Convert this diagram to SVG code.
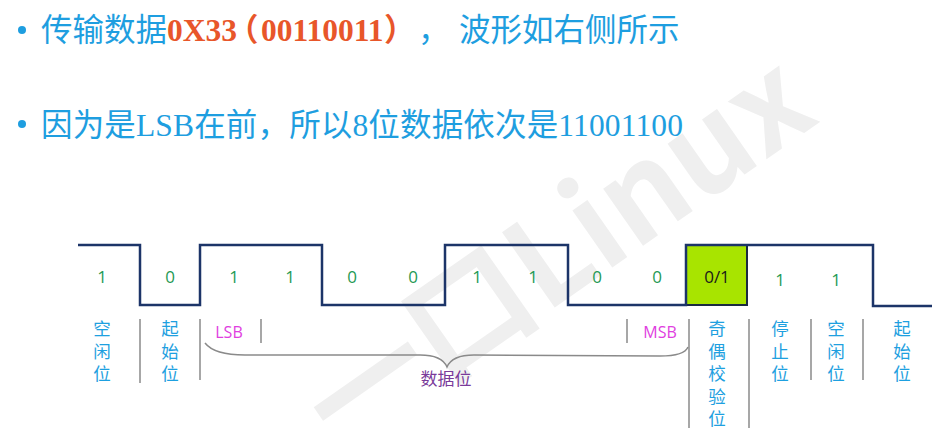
<svg xmlns="http://www.w3.org/2000/svg" width="946" height="441" viewBox="0 0 946 441">
<style>
.title{font-family:"Liberation Serif","Noto Sans CJK SC",serif;font-size:31.5px;fill:#1e9ee0}
.hl{fill:#e8562a;font-weight:bold}
.bit{font-family:"Open Sans","Noto Sans",sans-serif;font-size:17px;fill:#1f9a55;text-anchor:middle}
.lab{font-family:"Noto Sans CJK SC",sans-serif;font-size:17.5px;fill:#1ea0e0;text-anchor:middle}
.sb{font-family:"Open Sans","Noto Sans",sans-serif;font-size:16px;fill:#e03ee0;text-anchor:middle}
.sep{stroke:#8a8a8a;stroke-width:1.5;fill:none}
.wave{stroke:#1c3468;stroke-width:2.5;fill:none;stroke-linejoin:miter}
</style>
<rect width="946" height="441" fill="#ffffff"/>
<g id="watermark" transform="translate(558,254) rotate(-35)">
<text x="0" y="42" text-anchor="middle" font-family="'Noto Sans CJK SC','DejaVu Sans',sans-serif" font-weight="bold" font-size="124" fill="#efefef">一口Linux</text>
</g>
<g id="title">
<circle cx="22" cy="30" r="4" fill="#1e9ee0"/>
<text class="title" y="41"><tspan x="41">传输数据</tspan><tspan class="hl">0X33</tspan></text>
<text class="title" y="41"><tspan class="hl" x="227">（</tspan><tspan class="hl" x="261">00110011</tspan><tspan class="hl" x="384">）</tspan><tspan x="418">，</tspan><tspan x="459">波形如右侧所示</tspan></text>
<circle cx="22" cy="124" r="4" fill="#1e9ee0"/>
<text class="title" x="41" y="136" textLength="642" lengthAdjust="spacing">因为是LSB在前，所以8位数据依次是11001100</text>
</g>
<g id="waveform">
<rect x="686" y="245" width="61" height="60" fill="#a8e400" stroke="#1a2a40" stroke-width="2"/>
<path class="wave" d="M78,245 H140 V305 H200 V245 H322 V305 H445 V245 H568 V305 H686 V245 H873 V306 H932"/>
</g>
<g id="bits">
<text class="bit" x="102" y="283">1</text>
<text class="bit" x="170" y="283">0</text>
<text class="bit" x="234" y="283">1</text>
<text class="bit" x="290" y="283">1</text>
<text class="bit" x="352" y="283">0</text>
<text class="bit" x="413" y="283">0</text>
<text class="bit" x="477" y="283">1</text>
<text class="bit" x="533" y="283">1</text>
<text class="bit" x="597" y="283">0</text>
<text class="bit" x="657" y="283">0</text>
<text class="bit" x="717" y="283" style="fill:#1a1a1a">0/1</text>
<text class="bit" x="780" y="286">1</text>
<text class="bit" x="836" y="286">1</text>
</g>
<g id="connectors">
<line class="sep" x1="140" y1="319" x2="140" y2="383"/>
<line class="sep" x1="200" y1="319" x2="200" y2="380"/>
<line class="sep" x1="261" y1="319" x2="261" y2="343"/>
<line class="sep" x1="627" y1="319" x2="627" y2="343"/>
<line class="sep" x1="689" y1="319" x2="689" y2="428"/>
<line class="sep" x1="749" y1="319" x2="749" y2="428"/>
<line class="sep" x1="811" y1="319" x2="811" y2="380"/>
<line class="sep" x1="863" y1="319" x2="863" y2="380"/>
<path class="sep" d="M205,343 C212,352 225,355 245,355 L420,355 C437,355 444,360 447,367 C450,360 457,355 474,355 L660,356 C678,356 686,352 688,347"/>
</g>
<g id="label-idle1"><text class="lab" y="335"><tspan x="102">空</tspan><tspan x="102" dy="22.5">闲</tspan><tspan x="102" dy="22.5">位</tspan></text></g>
<g id="label-start1"><text class="lab" y="335"><tspan x="170">起</tspan><tspan x="170" dy="22.5">始</tspan><tspan x="170" dy="22.5">位</tspan></text></g>
<g id="label-lsb"><text class="sb" x="229" y="338">LSB</text></g>
<g id="label-msb"><text class="sb" x="660" y="338">MSB</text></g>
<g id="label-data"><text x="446" y="385" text-anchor="middle" font-family="'Noto Sans CJK SC',sans-serif" font-size="17" fill="#7a3a9a">数据位</text></g>
<g id="label-parity"><text class="lab" y="335"><tspan x="717">奇</tspan><tspan x="717" dy="22.5">偶</tspan><tspan x="717" dy="22.5">校</tspan><tspan x="717" dy="22.5">验</tspan><tspan x="717" dy="22.5">位</tspan></text></g>
<g id="label-stop"><text class="lab" y="335"><tspan x="780">停</tspan><tspan x="780" dy="22.5">止</tspan><tspan x="780" dy="22.5">位</tspan></text></g>
<g id="label-idle2"><text class="lab" y="335"><tspan x="836">空</tspan><tspan x="836" dy="22.5">闲</tspan><tspan x="836" dy="22.5">位</tspan></text></g>
<g id="label-start2"><text class="lab" y="335"><tspan x="902">起</tspan><tspan x="902" dy="22.5">始</tspan><tspan x="902" dy="22.5">位</tspan></text></g>
</svg>
